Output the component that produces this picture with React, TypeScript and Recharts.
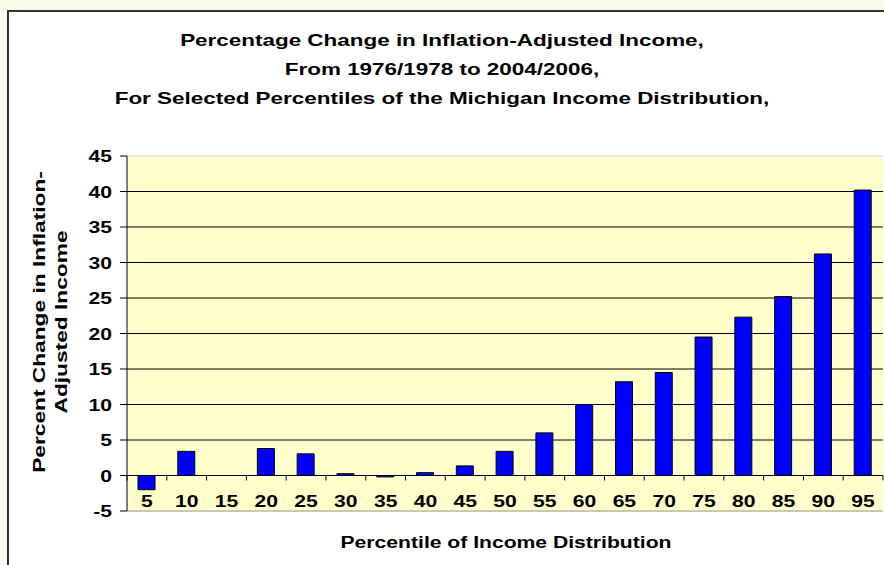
import { BarChart, Bar, XAxis, YAxis, CartesianGrid, ReferenceLine } from 'recharts'

const percentiles = ['5', '10', '15', '20', '25', '30', '35', '40', '45', '50', '55', '60', '65', '70', '75', '80', '85', '90', '95']
const changes = [-2.0, 3.4, 0, 3.8, 3.05, 0.25, -0.2, 0.4, 1.35, 3.4, 6.0, 10.0, 13.2, 14.5, 19.5, 22.3, 25.2, 31.2, 40.2]
const yTicks = [-5, 0, 5, 10, 15, 20, 25, 30, 35, 40, 45]
const gridValues = [5, 10, 15, 20, 25, 30, 35, 40]
const titleLines = [
  'Percentage Change in Inflation-Adjusted Income,',
  'From 1976/1978 to 2004/2006,',
  'For Selected Percentiles of the Michigan Income Distribution,',
]

const data = percentiles.map((p, i) => ({ p, value: changes[i] }))

const W = 884
const H = 565
const FONT = '"Liberation Sans", Arial, sans-serif'
const STRETCH = 1.32 // the original lettering is drawn wide
const PLOT_TOP = 156
const PLOT_BOTTOM = 511
const PLOT_LEFT = 127
const PLOT_RIGHT = 883
const Y_MIN = -5
const Y_MAX = 45
const zeroY = PLOT_TOP + ((Y_MAX - 0) / (Y_MAX - Y_MIN)) * (PLOT_BOTTOM - PLOT_TOP)
const band = (PLOT_RIGHT - PLOT_LEFT) / percentiles.length

function XTick(props: any) {
  const { x, payload, index } = props
  const left = x - band / 2
  return (
    <g>
      <line x1={left} x2={left} y1={zeroY} y2={zeroY + 5} stroke="#000" />
      {index === percentiles.length - 1 && (
        <line x1={left + band} x2={left + band} y1={zeroY} y2={zeroY + 5} stroke="#000" />
      )}
      <text
        transform={`translate(${x},${zeroY + 31}) scale(${STRETCH},1)`}
        textAnchor="middle"
        fontFamily={FONT}
        fontWeight="bold"
        fontSize={16}
        fill="#000"
      >
        {payload.value}
      </text>
    </g>
  )
}

function YTick(props: any) {
  const { x, y, payload } = props
  return (
    <text
      transform={`translate(${x},${y + 6}) scale(${STRETCH},1)`}
      textAnchor="end"
      fontFamily={FONT}
      fontWeight="bold"
      fontSize={16}
      fill="#000"
    >
      {payload.value}
    </text>
  )
}

export default function App() {
  return (
    <div style={{ position: 'absolute', left: 0, top: 0, width: W, height: H, background: '#fafaeb', overflow: 'hidden', fontFamily: FONT }}>
      <div style={{ position: 'absolute', left: 7, top: 10, width: W + 20, height: H + 20, border: '2px solid #333', background: '#fff' }} />
      <div style={{ position: 'absolute', left: 0, top: 0 }}>
        <BarChart
          width={W}
          height={H}
          data={data}
          margin={{ top: PLOT_TOP, right: W - PLOT_RIGHT, bottom: 20, left: PLOT_LEFT - 60 }}
          barCategoryGap={0}
        >
          <CartesianGrid
            vertical={false}
            horizontalValues={gridValues}
            stroke="#000"
            strokeOpacity={1}
            fill="#ffffcc"
            fillOpacity={1}
          />
          <ReferenceLine y={Y_MAX} stroke="#d6d6c2" />
          <ReferenceLine y={Y_MIN} stroke="#c8c8b4" strokeWidth={2} />
          <XAxis
            dataKey="p"
            height={H - 20 - PLOT_BOTTOM}
            axisLine={false}
            tickLine={false}
            tick={<XTick />}
            interval={0}
          />
          <YAxis
            domain={[Y_MIN, Y_MAX]}
            ticks={yTicks}
            width={60}
            axisLine={{ stroke: '#000' }}
            tickLine={{ stroke: '#000' }}
            tickSize={7}
            tickMargin={8}
            interval={0}
            tick={<YTick />}
          />
          <Bar dataKey="value" fill="#0000ff" stroke="#000" strokeWidth={1} barSize={17} isAnimationActive={false} />
          <ReferenceLine y={0} stroke="#000" />
        </BarChart>
      </div>
      {titleLines.map((t, i) => (
        <div
          key={i}
          style={{
            position: 'absolute',
            left: 0,
            width: W,
            top: 31 + i * 29,
            textAlign: 'center',
            fontWeight: 'bold',
            fontSize: 17,
            color: '#000',
            whiteSpace: 'nowrap',
            transform: `scaleX(${STRETCH})`,
          }}
        >
          {t}
        </div>
      ))}
      <div
        style={{
          position: 'absolute',
          left: 51,
          top: 322,
          transform: `translate(-50%, -50%) rotate(-90deg) scaleX(${STRETCH + 0.1})`,
          textAlign: 'center',
          fontWeight: 'bold',
          fontSize: 16,
          lineHeight: '22px',
          whiteSpace: 'nowrap',
          color: '#000',
        }}
      >
        Percent Change in Inflation-
        <br />
        Adjusted Income
      </div>
      <div
        style={{
          position: 'absolute',
          left: 506,
          top: 543,
          transform: `translate(-50%, -50%) scaleX(${STRETCH})`,
          fontWeight: 'bold',
          fontSize: 16,
          whiteSpace: 'nowrap',
          color: '#000',
        }}
      >
        Percentile of Income Distribution
      </div>
    </div>
  )
}
